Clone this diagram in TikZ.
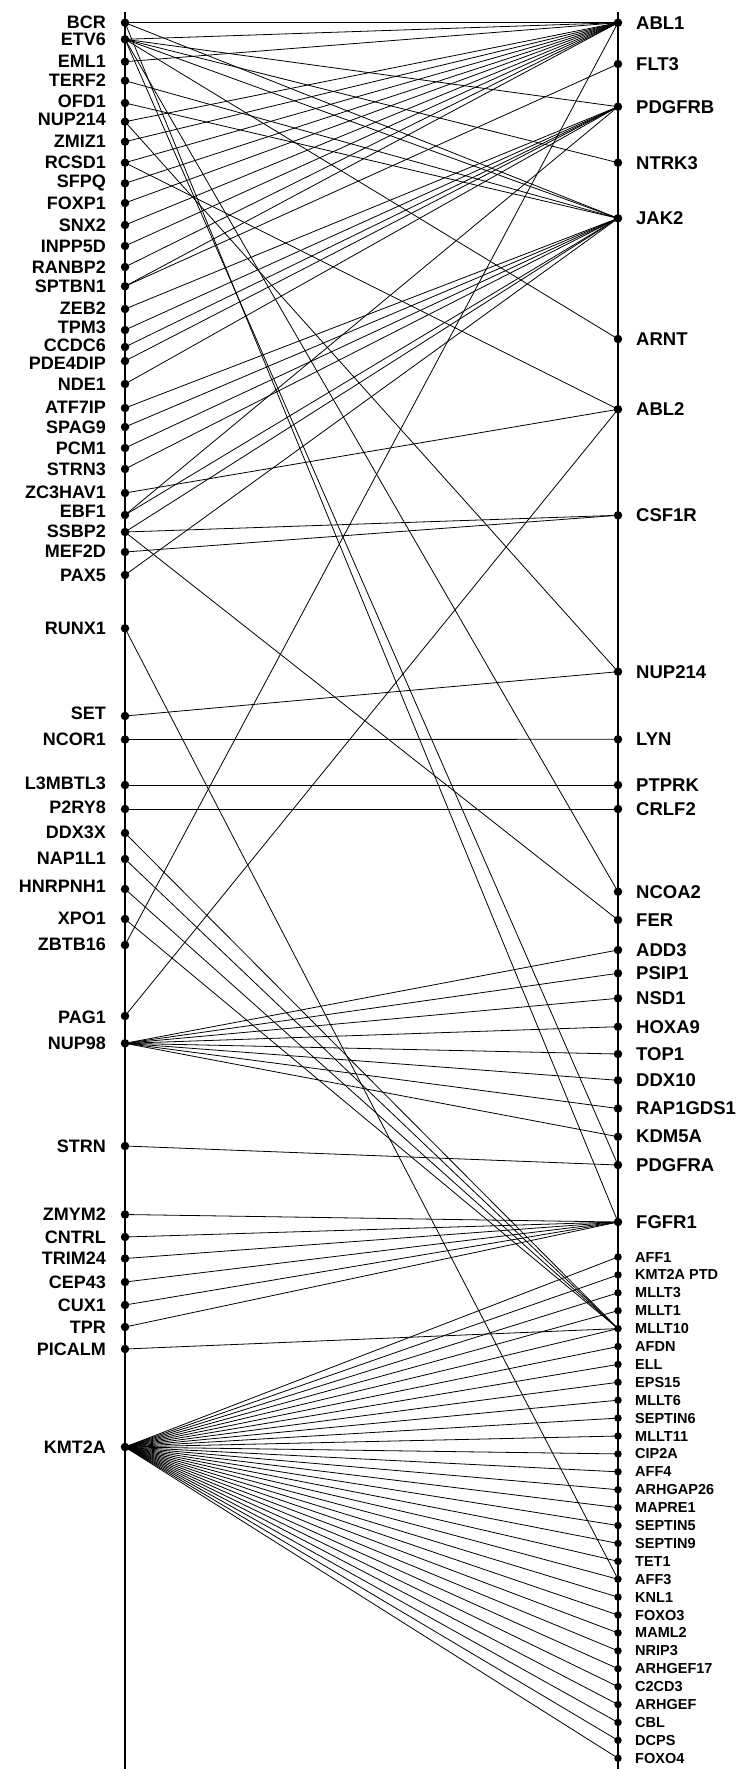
\documentclass[tikz,border=0pt]{standalone}
\usepackage{fontspec}
\setmainfont{Liberation Sans}
\tikzset{
  conn/.style={line width=0.8pt, black},
  axisline/.style={line width=2.2pt, black},
  gdot/.style={circle, fill=black, inner sep=0pt, minimum size=8.5pt},
  sdot/.style={circle, fill=black, inner sep=0pt, minimum size=7.5pt},
  llab/.style={anchor=east, inner sep=0pt, font=\bfseries\fontsize{18}{18}\selectfont},
  rlab/.style={anchor=west, inner sep=0pt, font=\bfseries\fontsize{18.5}{18.5}\selectfont},
  slab/.style={anchor=west, inner sep=0pt, font=\bfseries\fontsize{14.5}{14.5}\selectfont},
}
\begin{document}
\begin{tikzpicture}[x=1pt,y=-1pt]
\useasboundingbox (0,0) rectangle (742,1769);
\coordinate (LT) at (125,12);
\coordinate (LB) at (125,1769);
\coordinate (RT) at (618,12);
\coordinate (RB) at (618,1769);
\draw[axisline] (LT) -- (LB);
\draw[axisline] (RT) -- (RB);
% left nodes: name / text / dot y / label y
\foreach \n/\t/\y/\ly in {BCR/BCR/22.7/22.7, ETV6/ETV6/39.3/39.3, EML1/EML1/61.7/61.7, TERF2/TERF2/80.7/80.7, OFD1/OFD1/103/101.7, NUPL/NUP214/121.7/119.5, ZMIZ1/ZMIZ1/141.7/141.7, RCSD1/RCSD1/162.7/162.7, SFPQ/SFPQ/183.3/183.3, FOXP1/FOXP1/203/203, SNX2/SNX2/225/225, INPP5D/INPP5D/246/246, RANBP2/RANBP2/267/267, SPTBN1/SPTBN1/286.3/286.3, ZEB2/ZEB2/309/308, TPM3/TPM3/330/327.5, CCDC6/CCDC6/347/345, PDE4DIP/PDE4DIP/361/363, NDE1/NDE1/384/384, ATF7IP/ATF7IP/408/407, SPAG9/SPAG9/427/427, PCM1/PCM1/448/448, STRN3/STRN3/469/469, ZC3HAV1/ZC3HAV1/493/492, EBF1/EBF1/515/511, SSBP2/SSBP2/532/531, MEF2D/MEF2D/552/551, PAX5/PAX5/575/575, RUNX1/RUNX1/628.3/628.3, SET/SET/716/713, NCOR1/NCOR1/739.5/739.5, L3MBTL3/L3MBTL3/785/783.5, P2RY8/P2RY8/809/807.5, DDX3X/DDX3X/833/832, NAP1L1/NAP1L1/859/858, HNRPNH1/HNRPNH1/889/886, XPO1/XPO1/919/918, ZBTB16/ZBTB16/945/944, PAG1/PAG1/1016/1017, NUP98/NUP98/1043.3/1043, STRN/STRN/1146/1146, ZMYM2/ZMYM2/1214.5/1214.5, CNTRL/CNTRL/1237/1237, TRIM24/TRIM24/1258.5/1258.5, CEP43/CEP43/1282/1282, CUX1/CUX1/1305/1305, TPR/TPR/1327/1327, PICALM/PICALM/1349/1349, KMT2A/KMT2A/1447/1447}{
  \node[gdot] (L-\n) at (125,\y) {};
  \node[llab] (LL-\n) at (106,\ly) {\t};
}
% right main nodes
\foreach \n/\t/\y in {ABL1/ABL1/22.7, FLT3/FLT3/64, PDGFRB/PDGFRB/106.7, NTRK3/NTRK3/162.7, JAK2/JAK2/218.3, ARNT/ARNT/339, ABL2/ABL2/409.3, CSF1R/CSF1R/515.3, NUPR/NUP214/671.7, LYN/LYN/739.3, PTPRK/PTPRK/785, CRLF2/CRLF2/809, NCOA2/NCOA2/891.7, FER/FER/920, ADD3/ADD3/950, PSIP1/PSIP1/973.3, NSD1/NSD1/998.3, HOXA9/HOXA9/1026.7, TOP1/TOP1/1054, DDX10/DDX10/1080.3, RAP1GDS1/RAP1GDS1/1108.5, KDM5A/KDM5A/1136.7, PDGFRA/PDGFRA/1165, FGFR1/FGFR1/1222}{
  \node[gdot] (R-\n) at (618,\y) {};
  \node[rlab] (RL-\n) at (636,\y) {\t};
}
% right small nodes
\foreach \t [count=\i from 0] in {AFF1, KMT2A PTD, MLLT3, MLLT1, MLLT10, AFDN, ELL, EPS15, MLLT6, SEPTIN6, MLLT11, CIP2A, AFF4, ARHGAP26, MAPRE1, SEPTIN5, SEPTIN9, TET1, AFF3, KNL1, FOXO3, MAML2, NRIP3, ARHGEF17, C2CD3, ARHGEF, CBL, DCPS, FOXO4}{
  \pgfmathsetmacro{\yy}{1257+17.9*\i}
  \node[sdot] (S\i) at (618,\yy) {};
  \node[slab] (SL\i) at (635,\yy) {\t};
}
% connectors
\foreach \a/\b in {BCR/ABL1, BCR/JAK2, BCR/FGFR1,
  ETV6/ABL1, ETV6/PDGFRB, ETV6/NTRK3, ETV6/JAK2, ETV6/ARNT, ETV6/NCOA2, ETV6/PDGFRA,
  EML1/ABL1, TERF2/JAK2, OFD1/JAK2, NUPL/ABL1, NUPL/NUPR, ZMIZ1/ABL1,
  RCSD1/ABL1, RCSD1/ABL2, SFPQ/ABL1, FOXP1/ABL1, SNX2/ABL1, INPP5D/ABL1, RANBP2/ABL1,
  SPTBN1/ABL1, SPTBN1/FLT3,
  ZEB2/PDGFRB, TPM3/PDGFRB, CCDC6/PDGFRB, PDE4DIP/PDGFRB, NDE1/PDGFRB,
  ATF7IP/JAK2, SPAG9/JAK2, PCM1/JAK2, STRN3/JAK2, ZC3HAV1/ABL2,
  EBF1/PDGFRB, EBF1/JAK2, SSBP2/JAK2, SSBP2/CSF1R, SSBP2/FER, MEF2D/CSF1R, PAX5/JAK2,
  SET/NUPR, NCOR1/LYN, L3MBTL3/PTPRK, P2RY8/CRLF2, ZBTB16/ABL1, PAG1/ABL2,
  NUP98/ADD3, NUP98/PSIP1, NUP98/NSD1, NUP98/HOXA9, NUP98/TOP1, NUP98/DDX10, NUP98/RAP1GDS1, NUP98/KDM5A,
  STRN/PDGFRA, ZMYM2/FGFR1, CNTRL/FGFR1, TRIM24/FGFR1, CEP43/FGFR1, CUX1/FGFR1, TPR/FGFR1}{
  \draw[conn] (L-\a.center) -- (R-\b.center);
}
\foreach \a in {DDX3X, NAP1L1, HNRPNH1, XPO1, PICALM}{
  \draw[conn] (L-\a.center) -- (S4.center);
}
\draw[conn] (L-RUNX1.center) -- (S18.center);
\foreach \i in {0,...,28}{
  \draw[conn] (L-KMT2A.center) -- (S\i.center);
}
\end{tikzpicture}
\end{document}
